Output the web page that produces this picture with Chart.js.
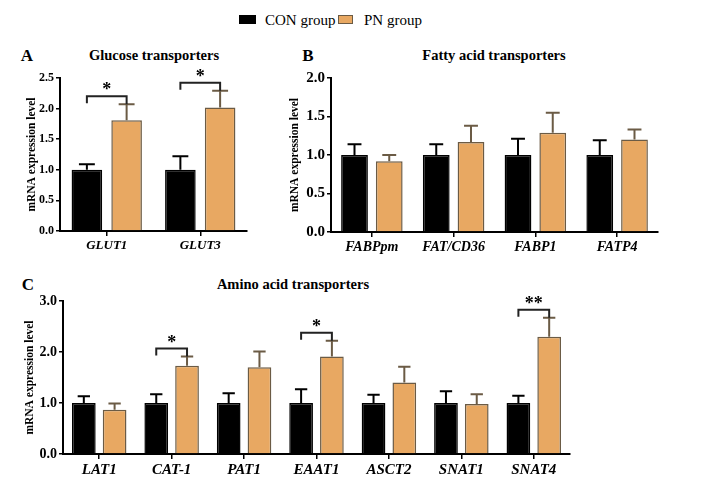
<!DOCTYPE html>
<html>
<head>
<meta charset="utf-8">
<script src="https://cdn.jsdelivr.net/npm/chart.js@4.4.0/dist/chart.umd.min.js"></script>
<style>
  body { margin: 0; background: #fff; width: 705px; height: 501px; position: relative; overflow: hidden;
         font-family: 'Liberation Serif', 'Times New Roman', serif; color: #000; }
  canvas { position: absolute; }
  .t { position: absolute; white-space: nowrap; line-height: 1; transform: translate(-50%, -50%); font-weight: bold; }
  .lg { position: absolute; white-space: nowrap; line-height: 1; font-size: 15px; transform: translateY(-50%); }
  .sw { position: absolute; box-sizing: border-box; }
</style>
</head>
<body>
<div class="sw" style="left:239px;top:15px;width:17px;height:9px;background:#000;"></div>
<div class="lg" style="left:265px;top:20px;">CON group</div>
<div class="sw" style="left:338px;top:15px;width:15px;height:9px;background:#E8A862;border:1px solid #6B5B45;"></div>
<div class="lg" style="left:364px;top:20px;">PN group</div>

<div class="t" style="left:27px;top:55px;font-size:17px;">A</div>
<div class="t" style="left:154px;top:55px;font-size:14.5px;">Glucose transporters</div>
<div class="t" style="left:308px;top:55px;font-size:17px;">B</div>
<div class="t" style="left:494px;top:55px;font-size:14.5px;">Fatty acid transporters</div>
<div class="t" style="left:28px;top:284px;font-size:17px;">C</div>
<div class="t" style="left:293px;top:284px;font-size:14.5px;">Amino acid transporters</div>

<canvas id="panelA" width="262" height="222" style="left:0;top:40px;"></canvas>
<canvas id="panelB" width="435" height="222" style="left:270px;top:40px;"></canvas>
<canvas id="panelC" width="705" height="231" style="left:0;top:270px;"></canvas>

<script>
const groupNames = ['CON group', 'PN group'];
const yTitle = 'mRNA expression level';

// A - glucose transporters
const glucoseGenes = ['GLUT1', 'GLUT3'];
const glucoseCon = [1.0, 1.0];
const glucoseConErr = [0.09, 0.22];
const glucosePn = [1.81, 2.02];
const glucosePnErr = [0.26, 0.27];
const glucoseSig = ['*', '*'];

// B - fatty acid transporters
const fattyGenes = ['FABPpm', 'FAT/CD36', 'FABP1', 'FATP4'];
const fattyCon = [1.0, 1.0, 1.0, 1.0];
const fattyConErr = [0.14, 0.14, 0.21, 0.19];
const fattyPn = [0.92, 1.17, 1.29, 1.20];
const fattyPnErr = [0.08, 0.21, 0.26, 0.13];
const fattySig = ['', '', '', ''];

// C - amino acid transporters
const aminoGenes = ['LAT1', 'CAT-1', 'PAT1', 'EAAT1', 'ASCT2', 'SNAT1', 'SNAT4'];
const aminoCon = [1.0, 1.0, 1.0, 1.0, 1.0, 1.0, 1.0];
const aminoConErr = [0.13, 0.17, 0.19, 0.27, 0.16, 0.23, 0.14];
const aminoPn = [0.87, 1.73, 1.70, 1.91, 1.40, 0.98, 2.30];
const aminoPnErr = [0.12, 0.18, 0.31, 0.31, 0.31, 0.19, 0.37];
const aminoSig = ['', '*', '', '*', '', '', '**'];

const pnColor = '#E8A862';
const pnEdge = '#6B5B45';
const serif = "'Liberation Serif', 'Times New Roman', serif";

function errorPlugin(errs, sig) {
  return {
    id: 'errorBars',
    afterDatasetsDraw(chart) {
      const ctx = chart.ctx;
      const y = chart.scales.y;
      const tops = [];
      chart.data.datasets.forEach((ds, i) => {
        tops[i] = [];
        chart.getDatasetMeta(i).data.forEach((bar, j) => {
          const top = y.getPixelForValue(ds.data[j] + errs[i][j]);
          tops[i][j] = top;
          const cap = bar.width * 0.26;
          ctx.save();
          ctx.strokeStyle = i === 0 ? '#000' : pnEdge;
          ctx.lineWidth = 2;
          ctx.beginPath();
          ctx.moveTo(bar.x, bar.y);
          ctx.lineTo(bar.x, top);
          ctx.moveTo(bar.x - cap, top);
          ctx.lineTo(bar.x + cap, top);
          ctx.stroke();
          ctx.restore();
        });
      });
      // significance brackets
      sig.forEach((s, j) => {
        if (!s) return;
        const a = chart.getDatasetMeta(0).data[j];
        const b = chart.getDatasetMeta(1).data[j];
        const yb = Math.min(tops[0][j], tops[1][j]) - 8;
        ctx.save();
        ctx.strokeStyle = '#222';
        ctx.lineWidth = 2;
        ctx.beginPath();
        ctx.moveTo(a.x, yb + 7);
        ctx.lineTo(a.x, yb);
        ctx.lineTo(b.x, yb);
        ctx.lineTo(b.x, tops[1][j]);
        ctx.stroke();
        ctx.fillStyle = '#000';
        ctx.font = 'bold 18px ' + serif;
        ctx.textAlign = 'center';
        ctx.textBaseline = 'alphabetic';
        ctx.fillText(s, (a.x + b.x) / 2, yb - 1);
        ctx.restore();
      });
    }
  };
}

function makePanel(id, genes, con, conErr, pn, pnErr, sig, yMax, yStep, box) {
  return new Chart(document.getElementById(id), {
    type: 'bar',
    data: {
      labels: genes,
      datasets: [{
        label: groupNames[0],
        data: con,
        backgroundColor: '#000',
        borderColor: '#000',
        borderWidth: 1.5
      }, {
        label: groupNames[1],
        data: pn,
        backgroundColor: pnColor,
        borderColor: pnEdge,
        borderWidth: 1.5
      }]
    },
    options: {
      responsive: false,
      animation: false,
      categoryPercentage: 0.85,
      barPercentage: 0.77,
      layout: { padding: { top: box.top, right: box.right, left: 0, bottom: 0 } },
      plugins: { legend: { display: false }, tooltip: { enabled: false } },
      scales: {
        x: {
          grid: { display: true, drawOnChartArea: false, offset: false, tickLength: 5, color: '#000', lineWidth: 1.5 },
          border: { color: '#000', width: 2 },
          ticks: { color: '#000', padding: 2, maxRotation: 0, autoSkip: false,
                   font: { family: serif, size: box.xFont, weight: 'bold', style: 'italic' } },
          afterFit: s => { s.height = box.xh; }
        },
        y: {
          min: 0,
          max: yMax,
          grid: { display: true, drawOnChartArea: false, tickLength: 4, color: '#000', lineWidth: 1.5 },
          border: { color: '#000', width: 2 },
          ticks: { stepSize: yStep, color: '#000', padding: 2, callback: v => Number(v).toFixed(1),
                   font: { family: serif, size: box.yFont, weight: 'bold' } },
          title: { display: true, text: yTitle, color: '#000', padding: { top: box.tp, bottom: 0 },
                   font: { family: serif, size: 11.5, weight: 'bold' } },
          afterFit: s => { s.width = box.yw; }
        }
      }
    },
    plugins: [errorPlugin([conErr, pnErr], sig)]
  });
}

makePanel('panelA', glucoseGenes, glucoseCon, glucoseConErr, glucosePn, glucosePnErr, glucoseSig, 2.5, 0.5,
  { top: 38, right: 15, xh: 31, yw: 60, tp: 25, xFont: 13, yFont: 12 });
makePanel('panelB', fattyGenes, fattyCon, fattyConErr, fattyPn, fattyPnErr, fattySig, 2.0, 0.5,
  { top: 38, right: 47, xh: 30, yw: 61, tp: 18, xFont: 14, yFont: 15 });
makePanel('panelC', aminoGenes, aminoCon, aminoConErr, aminoPn, aminoPnErr, aminoSig, 3.0, 1.0,
  { top: 31, right: 135, xh: 47, yw: 63, tp: 23, xFont: 15, yFont: 14 });
</script>
</body>
</html>
